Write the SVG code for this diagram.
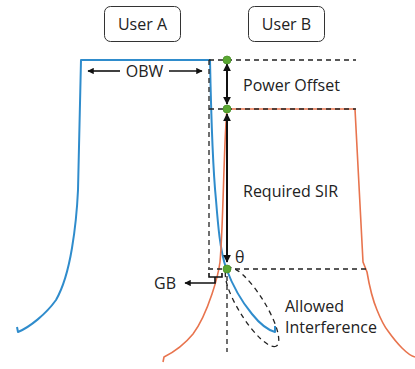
<svg xmlns="http://www.w3.org/2000/svg" width="415" height="369" viewBox="0 0 415 369">
<defs>
<style>
.lbl{font-family:"Open Sans","Liberation Sans",sans-serif;font-size:16px;fill:#222}
.box{fill:#fff;stroke:#333;stroke-width:1}
.dash{fill:none;stroke:#222;stroke-width:1.3;stroke-dasharray:5,4}
.arr{fill:none;stroke:#111;stroke-width:2}
.dot{fill:#5aa832;stroke:#4a8f28;stroke-width:0.8}
</style>
<marker id="ah" viewBox="0 0 10 10" refX="9" refY="5" markerWidth="4" markerHeight="4" orient="auto-start-reverse" markerUnits="strokeWidth">
<path d="M0,0 L10,5 L0,10 z" fill="#111"/>
</marker>
</defs>
<rect width="415" height="369" fill="#fff"/>
<g id="userA"><rect class="box" x="104.5" y="6.5" width="76" height="35" rx="6"/><text class="lbl" x="142.5" y="30" text-anchor="middle">User A</text></g>
<g id="userB"><rect class="box" x="248.5" y="6.5" width="76" height="35" rx="6"/><text class="lbl" x="286.5" y="30" text-anchor="middle">User B</text></g>
<g id="spectra">
<path id="userA-spectrum" fill="none" stroke="#2f8ccc" stroke-width="2" stroke-linejoin="round" d="M17,327 L18,332 C30,327 46,314 56,300 C64,286 69,266 72,248 C75,230 77,212 78,190 C79,160 80,110 81,60 L210,60 C211,110 213,170 216,200 C218,225 220,250 226,268 C232,284 242,302 252,314 C260,324 268,330 275,332 L275,326"/>
<path id="userB-spectrum" fill="none" stroke="#e8744e" stroke-width="1.6" stroke-linejoin="round" d="M163,362 L164,357 C172,353 184,345 193,334 C202,322 208,306 212,294 C216,282 219,270 220,262 C222,240 223,200 224,170 C225,140 226,120 227,109 L355,109 C357,150 360,200 363,262 L367,272 C369,284 372,298 377,310 C381,320 384,326 388,331 C393,338 398,344 402,348 C406,352 410,356 415,357"/>
</g>
<g id="connectors">
<path class="dash" d="M209,60 H356"/>
<path class="dash" d="M209,109 H356"/>
<path class="dash" d="M208,269 H366"/>
<path class="dash" d="M209,60 V268"/>
<path class="dash" d="M227,276 V352"/>
<ellipse class="dash" cx="252" cy="307" rx="46" ry="13" transform="rotate(58 252 307)"/>
<path class="arr" d="M227,64 V104" marker-start="url(#ah)" marker-end="url(#ah)"/>
<path class="arr" d="M227,114 V262" marker-start="url(#ah)" marker-end="url(#ah)"/>
<path fill="none" stroke="#111" stroke-width="1.6" d="M120,71 H88" marker-end="url(#ah)"/>
<path fill="none" stroke="#111" stroke-width="1.6" d="M169,71 H202" marker-end="url(#ah)"/>
<path fill="none" stroke="#111" stroke-width="1.6" d="M209,273 V277 H222 V273"/>
<path fill="none" stroke="#111" stroke-width="1.6" d="M215,277 V283 H185" marker-end="url(#ah)"/>
</g>
<g id="dots">
<circle class="dot" cx="227" cy="60" r="4"/>
<circle class="dot" cx="227" cy="109" r="4"/>
<circle class="dot" cx="227" cy="269" r="4"/>
</g>
<g id="labels">
<text class="lbl" x="144.5" y="77" text-anchor="middle">OBW</text>
<text class="lbl" x="243" y="91">Power Offset</text>
<text class="lbl" x="243" y="197">Required SIR</text>
<text class="lbl" x="235" y="263">θ</text>
<text class="lbl" x="154" y="289">GB</text>
<text class="lbl" x="285" y="312">Allowed</text>
<text class="lbl" x="285" y="333">Interference</text>
</g>
</svg>
